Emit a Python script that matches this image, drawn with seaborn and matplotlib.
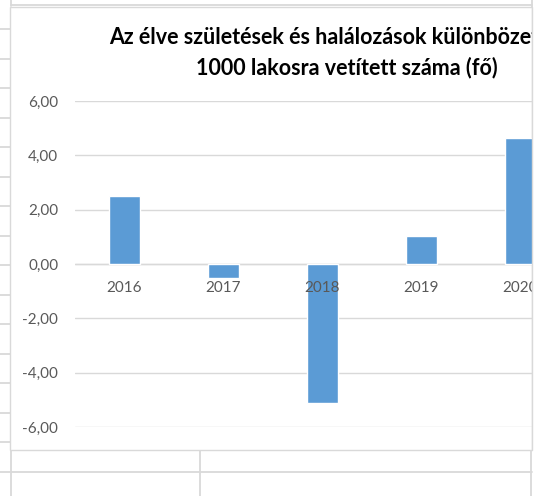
import matplotlib
matplotlib.use("Agg")
import matplotlib.pyplot as plt
import seaborn as sns
import pandas as pd
from matplotlib.patches import Rectangle
from matplotlib.lines import Line2D
from matplotlib.ticker import FuncFormatter

# data
years = ["2016", "2017", "2018", "2019", "2020"]
values = [2.50, -0.50, -5.13, 1.03, 4.65]
title_line1 = "Az élve születések és halálozások különbözete"
title_line2 = "1000 lakosra vetített száma (fő)"

W, H = 538, 496
GRID = "#D9D9D9"
BAR = "#5B9BD5"


def fx(x):
    return x / W


def fy(y):
    return 1 - y / H


def hline(fig, y, x0, x1, lw=1.3, z=-2):
    fig.add_artist(Line2D([fx(x0), fx(x1)], [fy(y), fy(y)], color=GRID, lw=lw, zorder=z))


def vline(fig, x, y0, y1, lw=1.3, z=-2):
    fig.add_artist(Line2D([fx(x), fx(x)], [fy(y0), fy(y1)], color=GRID, lw=lw, zorder=z))


sns.set_theme(style="white")
plt.rcParams["font.family"] = ["Lato", "DejaVu Sans"]

df = pd.DataFrame({"ev": years, "ertek": values})

fig = plt.figure(figsize=(W / 100, H / 100), dpi=100)
fig.patch.set_facecolor("white")

# spreadsheet cells behind the chart
y = 29.0
while y < 450:
    hline(fig, y, 0, 9.5)
    y += 29.5
hline(fig, 472, 0, 532)
hline(fig, 5, 11, 532)
vline(fig, 11, 0, 6)
vline(fig, 11, 450, H)
vline(fig, 200, 450, H)
vline(fig, 531, 450, H)

# chart box
fig.add_artist(Rectangle((fx(9.5), fy(450)), fx(532) - fx(9.5), fy(6.5) - fy(450),
                         facecolor="white", edgecolor=GRID, lw=1.0, zorder=-1))

ax = fig.add_axes([fx(75), fy(427), fx(570) - fx(75), fy(101) - fy(427)])
ax.set_facecolor("none")
sns.barplot(data=df, x="ev", y="ertek", color=BAR, width=0.31, saturation=1, ax=ax, zorder=3)

ax.set_ylim(-6, 6)
ax.set_xlim(-0.5, 4.5)
ax.set_yticks([-6, -4, -2, 0, 2, 4, 6])
ax.yaxis.set_major_formatter(FuncFormatter(lambda v, p: f"{v:.2f}".replace(".", ",")))
ax.yaxis.grid(True, color=GRID, lw=1.0, zorder=0)
ax.set_axisbelow(True)
for s in ax.spines.values():
    s.set_visible(False)
# category labels sit at the zero line, drawn over the bars
ax.spines["bottom"].set_position(("data", 0))
ax.xaxis.set_zorder(4)
ax.axhline(0, color=GRID, lw=1.0, zorder=1)
ax.set_xlabel("")
ax.set_ylabel("")
ax.tick_params(axis="y", length=0, pad=12, labelsize=11, labelcolor="#595959")
ax.tick_params(axis="x", length=0, pad=12, labelsize=11, labelcolor="#595959")

# title
fig.text(fx(109), fy(38), title_line1, ha="left", va="center",
         fontsize=15.5, fontweight="bold", color="black")
fig.text(fx(347), fy(68), title_line2, ha="center", va="center",
         fontsize=15.5, fontweight="bold", color="black")

# chart is cut at the right border
fig.add_artist(Rectangle((fx(532.5), 0), 1 - fx(532.5), 1, facecolor="white",
                         edgecolor="none", zorder=5))
vline(fig, 532, 6.5, 450, lw=1.0, z=6)
vline(fig, 531.5, 0, 6.5, z=6)

fig.savefig("out.png", dpi=100)
